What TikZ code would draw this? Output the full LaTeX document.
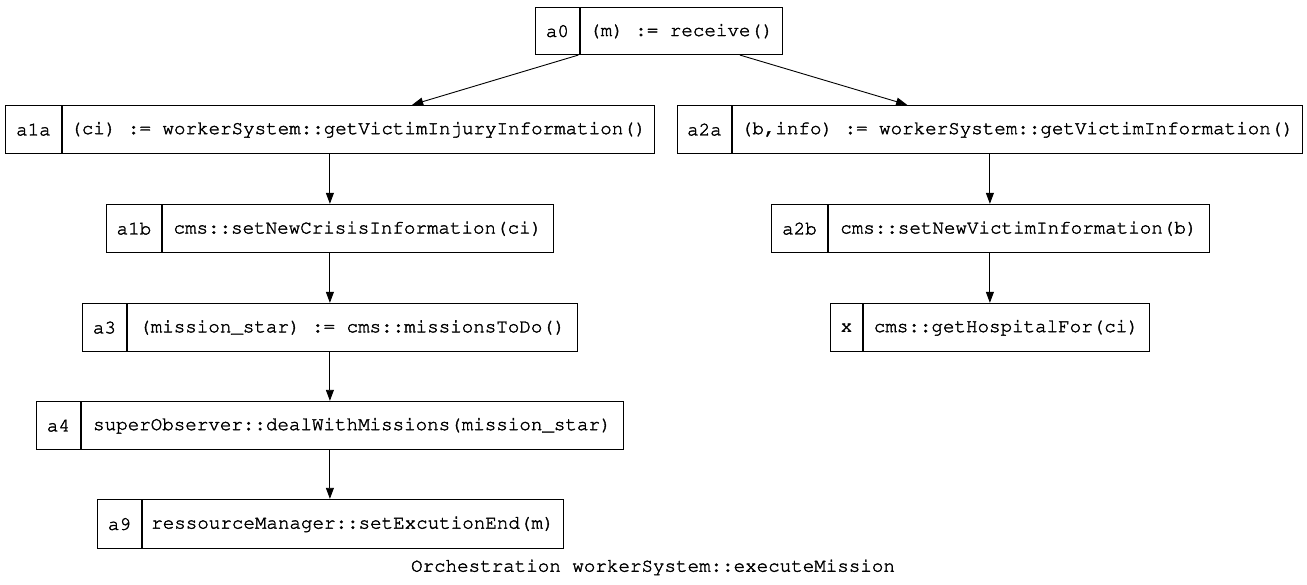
\documentclass[tikz,border=0pt]{standalone}
\usepackage[T1]{fontenc}
\usetikzlibrary{arrows.meta,fit}
\newcommand\cour{\fontfamily{pcr}\fontseries{m}\fontshape{n}\fontsize{19.2}{22}\selectfont}
\newcommand\thk[1]{\special{pdf:literal direct 2 Tr 0.35 w}#1\special{pdf:literal direct 0 Tr}}
\tikzset{
  cell/.style={draw=black, line width=0.9pt, inner sep=0pt, anchor=north west, font=\cour},
  rec/.style={draw=none, inner sep=0pt},
  edge/.style={draw=black, line width=0.9pt, -{Triangle[length=11pt,width=8pt]}},
}
\newcommand\recnode[8]{%
  \node[cell, minimum width=#5pt, minimum height=#4pt] (#1k) at (#2,#3) {\thk{#7}};
  \node[cell, minimum width=#6pt, minimum height=#4pt] (#1l) at (#1k.north east) {\thk{#8}};
  \node[rec, fit=(#1k)(#1l)] (#1) {};
}
\begin{document}
\begin{tikzpicture}[x=1pt,y=-1pt]
\useasboundingbox (0,0) rectangle (1307,585);
\recnode{a0}{535}{7}{47}{44}{202}{a0}{(m) := receive()}
\recnode{a1a}{5}{105}{48}{56}{592}{a1a}{(ci) := workerSystem::getVictimInjuryInformation()}
\recnode{a2a}{677}{105}{48}{54}{570}{a2a}{(b,info) := workerSystem::getVictimInformation()}
\recnode{a1b}{106}{204}{48}{55}{391}{a1b}{cms::setNewCrisisInformation(ci)}
\recnode{a2b}{771}{204}{48}{56}{381}{a2b}{cms::setNewVictimInformation(b)}
\recnode{a3}{82}{303}{48}{44}{450}{a3}{(mission\_star) := cms::missionsToDo()}
\recnode{x}{830}{303}{48}{32}{286}{x}{cms::getHospitalFor(ci)}
\recnode{a4}{36}{401}{48}{44}{542}{a4}{superObserver::dealWithMissions(mission\_star)}
\recnode{a9}{97}{499}{49}{44}{421}{a9}{ressourceManager::setExcutionEnd(m)}
\draw[edge] (a0) -- (a1a);
\draw[edge] (a0) -- (a2a);
\draw[edge] (a1a.south) -- (a1a.south |- a1b.north);
\draw[edge] (a1b.south -| a1a.south) -- (a1a.south |- a3.north);
\draw[edge] (a3.south -| a1a.south) -- (a1a.south |- a4.north);
\draw[edge] (a4.south -| a1a.south) -- (a1a.south |- a9.north);
\draw[edge] (a2a.south) -- (a2a.south |- a2b.north);
\draw[edge] (a2b.south -| a2a.south) -- (a2a.south |- x.north);
\node[font=\cour, inner sep=0pt] (title) at (653,567) {\thk{Orchestration workerSystem::executeMission}};
\end{tikzpicture}
\end{document}
